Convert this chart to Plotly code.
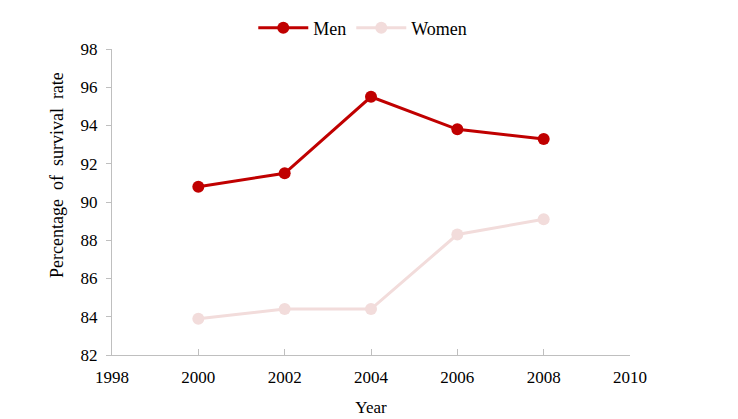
import plotly.graph_objects as go

years = [2000, 2002, 2004, 2006, 2008]
men = [90.8, 91.5, 95.5, 93.8, 93.3]
women = [83.9, 84.4, 84.4, 88.3, 89.1]
y_title = "Percentage  of  survival  rate"

font = "Liberation Serif, Times New Roman, serif"
fig = go.Figure()
fig.add_trace(go.Scatter(x=years, y=men, name="Men", mode="lines+markers",
                         line=dict(color="#C00000", width=3),
                         marker=dict(size=12, color="#C00000")))
fig.add_trace(go.Scatter(x=years, y=women, name="Women", mode="lines+markers",
                         line=dict(color="#F2DCDB", width=3),
                         marker=dict(size=12, color="#F2DCDB")))

fig.update_layout(
    width=730, height=411,
    margin=dict(l=104, r=108, t=41, b=64, autoexpand=False),
    paper_bgcolor="white", plot_bgcolor="white",
    font=dict(family=font, size=17, color="black"),
    showlegend=True,
    legend=dict(orientation="h", x=0.486, xanchor="center", xref="container",
                y=0.951, yanchor="middle", yref="container",
                font=dict(size=18), itemwidth=50),
    xaxis=dict(range=[1998, 2010], dtick=2, tick0=1998, showgrid=False, zeroline=False,
               showline=True, linecolor="#BFBFBF", linewidth=1, automargin=False,
               ticks="inside", ticklen=6, tickcolor="#BFBFBF", ticklabelstandoff=7,
               title=dict(text="Year", font=dict(size=17), standoff=14)),
    yaxis=dict(range=[82, 98], dtick=2, tick0=82, showgrid=False, zeroline=False,
               showline=True, linecolor="#BFBFBF", linewidth=1, automargin=False,
               ticks="outside", ticklen=5, tickcolor="#BFBFBF", ticklabelstandoff=5),
    annotations=[dict(text=y_title, textangle=-90, xref="paper", yref="paper",
                      x=-0.1062, y=0.588, xanchor="center", yanchor="middle",
                      showarrow=False, font=dict(size=18))],
)
fig.write_html("out.html")
